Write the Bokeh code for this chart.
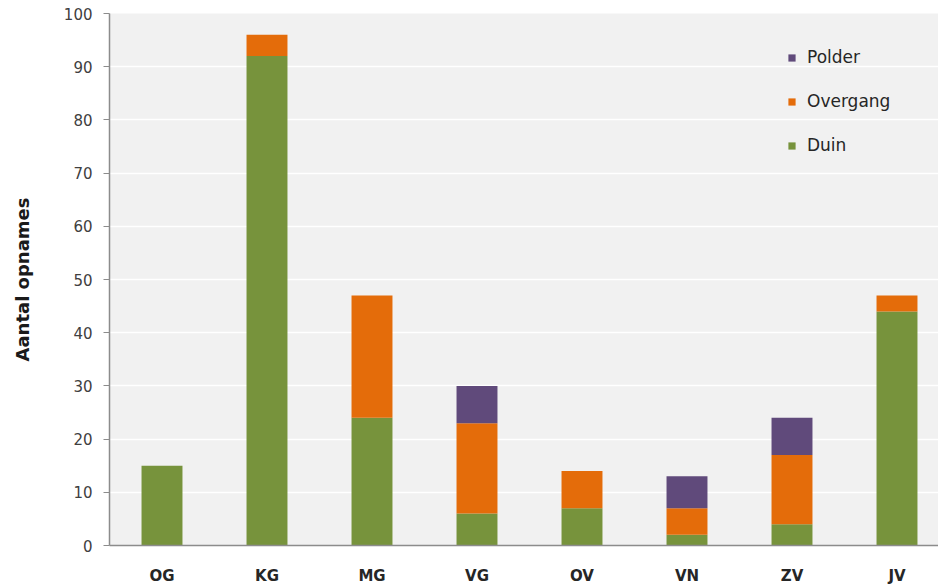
import numpy as np
from bokeh.plotting import figure
from bokeh.models import Range1d, FixedTicker, Legend, LegendItem, ColumnDataSource
from bokeh.embed import file_html
from bokeh.resources import INLINE

categories = ["OG", "KG", "MG", "VG", "OV", "VN", "ZV", "JV"]
duin = [15, 92, 24, 6, 7, 2, 4, 44]
overgang = [0, 4, 23, 17, 7, 5, 13, 3]
polder = [0, 0, 0, 7, 0, 6, 7, 0]
series = ["Duin", "Overgang", "Polder"]
colors = ["#77933C", "#E46C0A", "#604A7B"]
y_ticks = list(range(0, 101, 10))
y_title = "Aantal opnames"

x = np.arange(len(categories)) + 0.5
src = ColumnDataSource(dict(x=x, Duin=duin, Overgang=overgang, Polder=polder))

W, H = 938, 587
p = figure(width=W, height=H, output_backend="svg", toolbar_location=None,
           x_range=Range1d(0, 829 / 105), y_range=Range1d(0, 100),
           min_border_left=109, min_border_right=0, min_border_top=13, min_border_bottom=42)
p.background_fill_color = "#F1F1F1"
p.border_fill_color = "white"
p.outline_line_color = None

renderers = p.vbar_stack(series, x="x", width=0.39, color=colors, source=src, line_width=0)

# axes
p.xaxis.ticker = FixedTicker(ticks=list(x))
p.xaxis.major_label_overrides = {float(xi): c for xi, c in zip(x, categories)}
p.xaxis.major_tick_line_color = None
p.xaxis.minor_tick_line_color = None
p.xaxis.axis_line_color = "#8C8C8C"
p.xaxis.axis_line_width = 1.5
p.xaxis.major_label_text_font = "DejaVu Sans"
p.xaxis.major_label_text_font_style = "bold"
p.xaxis.major_label_text_font_size = "15px"
p.xaxis.major_label_text_color = "#262626"
p.xaxis.major_label_standoff = 15

p.yaxis.ticker = FixedTicker(ticks=y_ticks)
p.yaxis.minor_tick_line_color = None
p.yaxis.major_tick_out = 6
p.yaxis.major_tick_in = 0
p.yaxis.major_tick_line_color = "#8C8C8C"
p.yaxis.axis_line_color = "#8C8C8C"
p.yaxis.axis_line_width = 1.5
p.yaxis.major_label_text_font = "DejaVu Sans"
p.yaxis.major_label_text_font_size = "15px"
p.yaxis.major_label_text_color = "#404040"
p.yaxis.major_label_standoff = 11
p.yaxis.axis_label = y_title
p.yaxis.axis_label_text_font = "DejaVu Sans"
p.yaxis.axis_label_text_font_style = "bold"
p.yaxis.axis_label_text_font_size = "18px"
p.yaxis.axis_label_text_color = "#1a1a1a"
p.yaxis.axis_label_standoff = 28

p.xgrid.grid_line_color = None
p.ygrid.grid_line_color = "white"
p.ygrid.grid_line_width = 1.5

items = [LegendItem(label=s, renderers=[r]) for s, r in zip(series, renderers)][::-1]
legend = Legend(items=items, location=(678, 390), padding=0, margin=0,
                glyph_width=9, glyph_height=9, label_height=17, spacing=24,
                label_standoff=11, background_fill_alpha=0, border_line_alpha=0,
                label_text_font="DejaVu Sans", label_text_font_size="17px",
                label_text_color="#262626")
p.add_layout(legend)

open("out.html", "w").write(file_html(p, INLINE))
